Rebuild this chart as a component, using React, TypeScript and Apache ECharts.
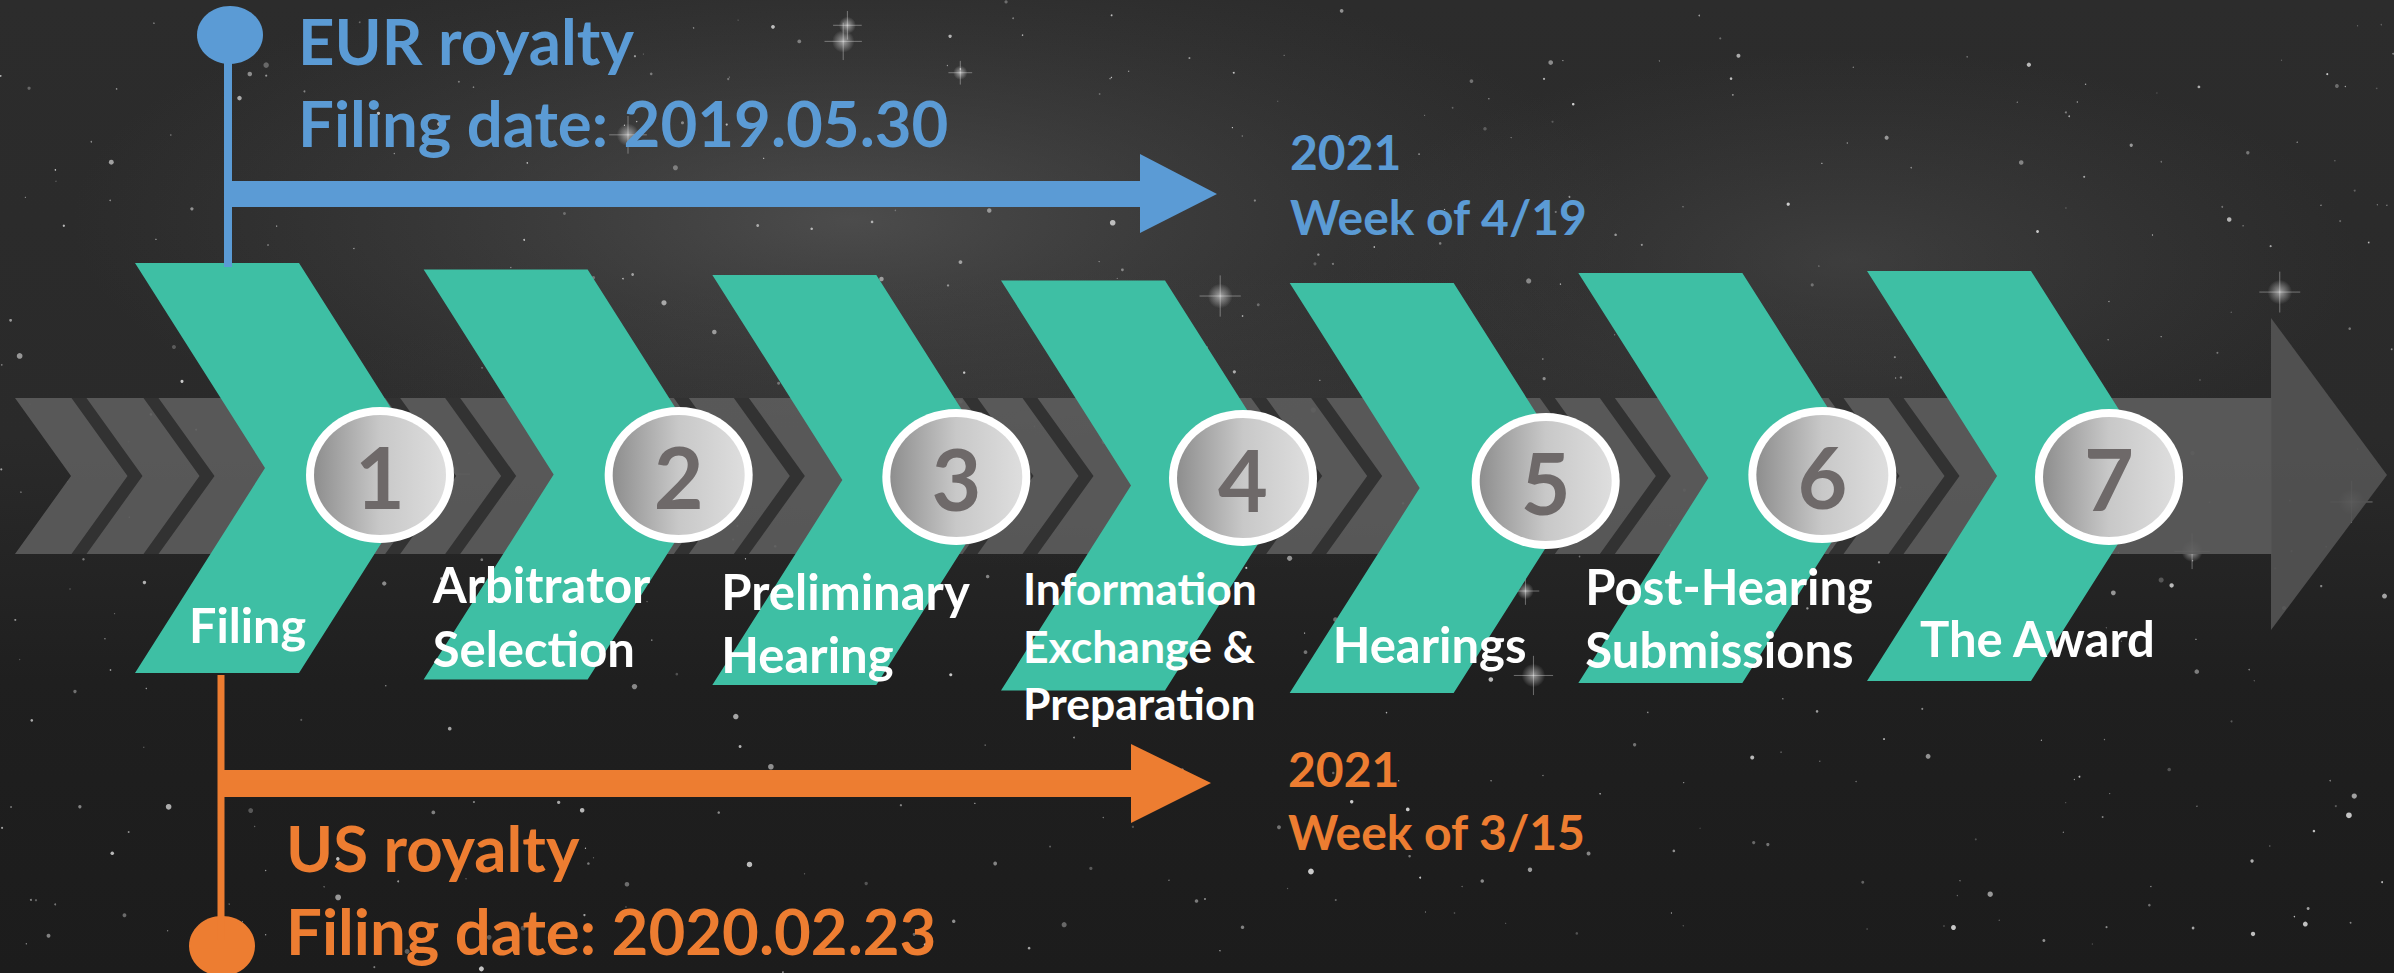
import React, { useEffect, useRef } from 'react';
import * as echarts from 'echarts';

// ---- content ----
const stepNumbers = ['1', '2', '3', '4', '5', '6', '7'];
const stepLabels = [
  'Filing',
  'Arbitrator\nSelection',
  'Preliminary\nHearing',
  'Information\nExchange &\nPreparation',
  'Hearings',
  'Post-Hearing\nSubmissions',
  'The Award',
];
const eurLines = ['EUR royalty', 'Filing date: 2019.05.30'];
const eurTarget = ['2021', 'Week of 4/19'];
const usLines = ['US royalty', 'Filing date: 2020.02.23'];
const usTarget = ['2021', 'Week of 3/15'];

// ---- layout (pixels) ----
const W = 2394;
const H = 973;
const FONT = 'Lato';
const TEAL = '#3EBFA4';
const BLUE = '#5B9BD5';
const ORANGE = '#ED7D31';
const K = 0.387; // central-baseline to alphabetic-baseline ratio
const BIG = 63.5;
const MID = 48;
const BAND_TOP = 398;
const BAND_BOTTOM = 554;
const chevronMidY = [468, 474.5, 480, 485.5, 488, 478, 476];
const circleDX = [-2, 8, -3, -5, 9, -3, -5];
const circleY = [475, 475, 477, 478, 481, 475, 477];
const labelDX = [-193, -238, -238, -225, -204, -240, -194];
const labelBaseY = [643, 603, 610, 605, 663, 605, 657];
const labelGap = [0, 64, 63, 57.5, 0, 63, 0];
const labelSize = [48.5, 49, 49, 44.5, 49, 49, 49];

function txt(text: string, x: number, baseline: number, size: number, color: string, z = 10) {
  return {
    type: 'text',
    x,
    y: baseline - K * size,
    z,
    silent: true,
    style: {
      text,
      fill: color,
      fontSize: size,
      fontWeight: 'bold',
      fontFamily: FONT,
      textAlign: 'left',
      textVerticalAlign: 'middle',
      align: 'left',
      verticalAlign: 'middle',
    },
  };
}

function backgroundElements() {
  const els: any[] = [];
  els.push({
    type: 'rect',
    z: 0,
    shape: { x: 0, y: 0, width: W, height: H },
    style: {
      fill: new echarts.graphic.LinearGradient(0, 0, 0, 1, [
        { offset: 0, color: '#2c2c2c' },
        { offset: 0.45, color: '#2a2a2a' },
        { offset: 0.7, color: '#1f1f1f' },
        { offset: 1, color: '#1c1c1c' },
      ]),
    },
  });
  const hazes = [
    { x: 850, y: 220, r: 300, sx: 2.6, sy: 0.9, c: 'rgba(125,125,125,0.4)' },
    { x: 1850, y: 260, r: 300, sx: 1.7, sy: 0.7, c: 'rgba(105,105,105,0.3)' },
    { x: 1200, y: 420, r: 300, sx: 3.2, sy: 0.5, c: 'rgba(90,90,90,0.2)' },
  ];
  hazes.forEach((h) => {
    els.push({
      type: 'circle',
      z: 0,
      x: h.x,
      y: h.y,
      scaleX: h.sx,
      scaleY: h.sy,
      shape: { cx: 0, cy: 0, r: h.r },
      style: {
        fill: new echarts.graphic.RadialGradient(0.5, 0.5, 0.5, [
          { offset: 0, color: h.c },
          { offset: 1, color: 'rgba(90,90,90,0)' },
        ]),
      },
    });
  });
  // decorative star field (deterministic)
  let s = 20210419;
  const rnd = () => {
    s = (s * 1664525 + 1013904223) % 4294967296;
    return s / 4294967296;
  };
  for (let i = 0; i < 760; i++) {
    const x = rnd() * W;
    const y = rnd() * H;
    const r = 0.6 + Math.pow(rnd(), 4) * 2.4;
    const o = 0.22 + rnd() * 0.55;
    els.push({ type: 'circle', z: 1, silent: true, shape: { cx: x, cy: y, r }, style: { fill: '#ffffff', opacity: o } });
  }
  for (let i = 0; i < 14; i++) {
    const x = rnd() * W;
    const y = rnd() * H * 0.7;
    const len = 10 + rnd() * 14;
    els.push({
      type: 'circle', z: 1, silent: true,
      shape: { cx: x, cy: y, r: len * 0.6 },
      style: { fill: new echarts.graphic.RadialGradient(0.5, 0.5, 0.5, [
        { offset: 0, color: 'rgba(255,255,255,0.55)' },
        { offset: 1, color: 'rgba(255,255,255,0)' },
      ]) },
    });
    els.push({ type: 'line', z: 1, silent: true, shape: { x1: x - len, y1: y, x2: x + len, y2: y }, style: { stroke: 'rgba(255,255,255,0.35)', lineWidth: 1 } });
    els.push({ type: 'line', z: 1, silent: true, shape: { x1: x, y1: y - len, x2: x, y2: y + len }, style: { stroke: 'rgba(255,255,255,0.35)', lineWidth: 1 } });
  }
  // the long gray process arrow
  els.push({
    type: 'polygon', z: 1,
    shape: { points: [[15, BAND_TOP], [2272, BAND_TOP], [2272, BAND_BOTTOM], [15, BAND_BOTTOM], [71, 476]] },
    style: { fill: '#5b5b5b', opacity: 0.93 },
  });
  els.push({
    type: 'polygon', z: 1,
    shape: { points: [[2271, 318], [2387, 475], [2271, 630]] },
    style: { fill: '#535353', opacity: 0.93 },
  });
  return els;
}

function timelineElements() {
  const els: any[] = [];
  // EUR (blue)
  els.push({ type: 'ellipse', z: 10, shape: { cx: 230, cy: 35, rx: 33, ry: 29 }, style: { fill: BLUE } });
  els.push({ type: 'line', z: 10, shape: { x1: 228, y1: 40, x2: 228, y2: 267 }, style: { stroke: BLUE, lineWidth: 8 } });
  els.push({
    type: 'polygon', z: 10,
    shape: { points: [[224, 181], [1140, 181], [1140, 154], [1217, 194], [1140, 233], [1140, 207], [224, 207]] },
    style: { fill: BLUE },
  });
  els.push(txt(eurLines[0], 298, 65, BIG, BLUE));
  els.push(txt(eurLines[1], 298, 147, BIG, BLUE));
  els.push(txt(eurTarget[0], 1290, 170, MID, BLUE));
  els.push(txt(eurTarget[1], 1290, 235, MID, BLUE));
  // US (orange)
  els.push({ type: 'ellipse', z: 10, shape: { cx: 222, cy: 946, rx: 33, ry: 30 }, style: { fill: ORANGE } });
  els.push({ type: 'line', z: 10, shape: { x1: 221, y1: 675, x2: 221, y2: 940 }, style: { stroke: ORANGE, lineWidth: 7 } });
  els.push({
    type: 'polygon', z: 10,
    shape: { points: [[218, 770], [1131, 770], [1131, 744], [1211, 783], [1131, 823], [1131, 797], [218, 797]] },
    style: { fill: ORANGE },
  });
  els.push(txt(usLines[0], 286, 872, BIG, ORANGE));
  els.push(txt(usLines[1], 286, 955, BIG, ORANGE));
  els.push(txt(usTarget[0], 1288, 787, MID, ORANGE));
  els.push(txt(usTarget[1], 1288, 850, MID, ORANGE));
  return els;
}

function renderStep(params: any, api: any) {
  const i = params.dataIndex;
  const cx = api.coord([api.value(0), 0])[0];
  const py = (v: number) => api.coord([api.value(0), v])[1];
  const my = py(chevronMidY[i]);
  const L = cx - 247;
  const T = my - 205;
  const children: any[] = [];

  // dark separators in the gray band just before this chevron
  const notch = L + 130;
  const bt = py(BAND_TOP);
  const bb = py(BAND_BOTTOM);
  const bm = (bt + bb) / 2;
  const tips = i === 0 ? [notch - 130, notch - 58] : [notch - 105, notch - 45];
  tips.forEach((tx) => {
    children.push({
      type: 'polygon', z2: 1,
      shape: { points: [[tx - 63.5, bt], [tx - 48.5, bt], [tx + 7.5, bm], [tx - 48.5, bb], [tx - 63.5, bb], [tx - 7.5, bm]] },
      style: { fill: '#323232' },
    });
  });

  // teal chevron
  children.push({
    type: 'polygon', z2: 5,
    shape: { points: [[L, T], [L + 164, T], [L + 294, my], [L + 164, T + 410], [L, T + 410], [L + 130, my]] },
    style: { fill: TEAL },
  });

  // numbered disc
  const ccx = cx + circleDX[i];
  const ccy = py(circleY[i]);
  children.push({ type: 'ellipse', z2: 8, shape: { cx: ccx, cy: ccy, rx: 74, ry: 68 }, style: { fill: '#ffffff' } });
  children.push({
    type: 'ellipse', z2: 9,
    shape: { cx: ccx, cy: ccy, rx: 66, ry: 60 },
    style: {
      fill: new echarts.graphic.LinearGradient(0, 0, 1, 0, [
        { offset: 0, color: '#8e8e8e' },
        { offset: 0.5, color: '#c8c8c8' },
        { offset: 1, color: '#dedede' },
      ]),
    },
  });
  children.push({
    type: 'text', z2: 10,
    x: ccx, y: ccy,
    style: {
      text: stepNumbers[i], fill: '#6e6969', fontSize: 86, fontWeight: 'bold', fontFamily: FONT,
      textAlign: 'center', textVerticalAlign: 'middle', align: 'center', verticalAlign: 'middle',
    },
  });

  // label
  const lines = stepLabels[i].split('\n');
  lines.forEach((line, k) => {
    const size = labelSize[i];
    children.push({
      type: 'text', z2: 10,
      x: cx + labelDX[i],
      y: py(labelBaseY[i] + k * labelGap[i]) - K * size,
      style: {
        text: line, fill: '#ffffff', fontSize: size, fontWeight: 'bold', fontFamily: FONT,
        textAlign: 'left', textVerticalAlign: 'middle', align: 'left', verticalAlign: 'middle',
      },
    });
  });

  return { type: 'group', children };
}

function buildOption(): any {
  return {
    animation: false,
    backgroundColor: '#222222',
    grid: { left: 382 - 288.67 / 2, width: 288.67 * 7, top: 0, height: H, containLabel: false },
    xAxis: { type: 'category', data: stepNumbers, show: false, boundaryGap: true },
    yAxis: { type: 'value', min: 0, max: H, inverse: true, show: false },
    graphic: { elements: [...backgroundElements(), ...timelineElements()] },
    series: [
      {
        type: 'custom',
        coordinateSystem: 'cartesian2d',
        z: 5,
        silent: true,
        clip: false,
        data: stepNumbers.map((_, i) => [i]),
        encode: { x: 0 },
        renderItem: renderStep,
      },
    ],
  };
}

export default function App() {
  const ref = useRef<HTMLDivElement>(null);
  useEffect(() => {
    if (!ref.current) return;
    const chart = echarts.init(ref.current, null, { renderer: 'svg' });
    chart.setOption(buildOption());
    return () => chart.dispose();
  }, []);
  return <div ref={ref} style={{ position: 'fixed', left: 0, top: 0, width: W, height: H }} />;
}
